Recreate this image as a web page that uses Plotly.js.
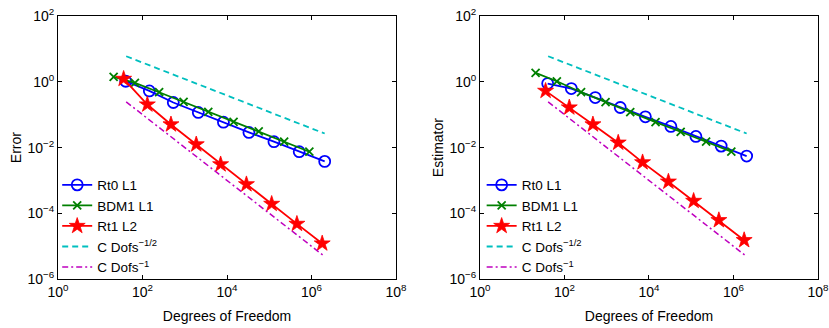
<!DOCTYPE html>
<html>
<head>
<meta charset="utf-8">
<script src="https://cdn.plot.ly/plotly-3.0.1.min.js"></script>
<style>html,body{margin:0;padding:0;background:#fff;}#chart{width:829px;height:328px;}</style>
</head>
<body>
<div id="chart"></div>
<script>
// Degrees of freedom per method
const dofsRt0  = [40, 145, 535, 2090, 8220, 33000, 129000, 511000, 2050000];
const dofsBDM1 = [20.7, 66, 247, 938, 3600, 14300, 56200, 225000, 889000];
const dofsRt1  = [35.7, 130, 471, 1870, 7050, 28800, 114000, 451000, 1790000];

// Left panel: Error
const errRt0  = [1.04, 0.53, 0.235, 0.117, 0.0594, 0.0289, 0.0151, 0.0075, 0.00381];
const errBDM1 = [1.41, 0.93, 0.483, 0.246, 0.122, 0.061, 0.031, 0.0151, 0.0075];
const errRt1  = [1.23, 0.204, 0.0506, 0.0125, 0.00309, 7.65e-4, 1.94e-4, 4.79e-5, 1.21e-5];

// Right panel: Estimator
const estRt0  = [0.885, 0.625, 0.333, 0.166, 0.0863, 0.044, 0.0219, 0.0111, 0.00553];
const estBDM1 = [1.87, 1.04, 0.484, 0.240, 0.120, 0.0594, 0.0303, 0.0151, 0.0075];
const estRt1  = [0.531, 0.166, 0.0506, 0.0141, 0.00356, 9.2e-4, 2.39e-4, 6.19e-5, 1.53e-5];

// Reference slopes
const refHalfDofs = [41, 2.05e6];
const refHalf     = [6.0, 0.0268];
const refOneDofs  = [41, 1.92e6];
const refOne      = [0.246, 5.2e-6];

// Tick labels
const xTickVals = [1, 1e2, 1e4, 1e6, 1e8];
const xTickText = ['10<sup>0</sup>', '10<sup>2</sup>', '10<sup>4</sup>', '10<sup>6</sup>', '10<sup>8</sup>'];
const yTickVals = [1e-6, 1e-4, 1e-2, 1, 1e2];
const yTickText = ['10<sup>−6</sup>', '10<sup>−4</sup>', '10<sup>−2</sup>', '10<sup>0</sup>', '10<sup>2</sup>'];

const names = ['Rt0 L1', 'BDM1 L1', 'Rt1 L2', 'C Dofs<sup>−1/2</sup>', 'C Dofs<sup>−1</sup>'];

function panel(xa, ya, lg, rt0, bdm1, rt1) {
  return [
    {x: dofsRt0, y: rt0, xaxis: xa, yaxis: ya, legend: lg, name: names[0], mode: 'lines+markers',
     line: {color: '#0000ff', width: 1.8},
     marker: {symbol: 'circle-open', size: 11, color: '#0000ff', line: {width: 1.8, color: '#0000ff'}}},
    {x: dofsBDM1, y: bdm1, xaxis: xa, yaxis: ya, legend: lg, name: names[1], mode: 'lines+markers',
     line: {color: '#008000', width: 1.8},
     marker: {symbol: 'x-thin-open', size: 8, color: '#008000', line: {width: 1.8, color: '#008000'}}},
    {x: dofsRt1, y: rt1, xaxis: xa, yaxis: ya, legend: lg, name: names[2], mode: 'lines+markers',
     line: {color: '#ff0000', width: 1.8},
     marker: {symbol: 'star', size: 12, color: '#ff0000', line: {width: 0.8, color: '#ff0000'}}},
    {x: refHalfDofs, y: refHalf, xaxis: xa, yaxis: ya, legend: lg, name: names[3], mode: 'lines',
     line: {color: '#00bfbf', width: 1.8, dash: '6px,4px'}},
    {x: refOneDofs, y: refOne, xaxis: xa, yaxis: ya, legend: lg, name: names[4], mode: 'lines',
     line: {color: '#bf00bf', width: 1.5, dash: '6px,3px,2px,3px'}}
  ];
}

const data = [].concat(
  panel('x', 'y', 'legend', errRt0, errBDM1, errRt1),
  panel('x2', 'y2', 'legend2', estRt0, estBDM1, estRt1)
);

const font = {family: '"Liberation Sans", Arial, sans-serif', size: 14, color: '#000'};

function xaxis(dom, anchor) {
  return {type: 'log', domain: dom, anchor: anchor, range: [0, 8],
    tickvals: xTickVals, ticktext: xTickText, ticks: 'inside', ticklen: 4, tickcolor: '#000',
    ticklabeloverflow: 'allow',
    showline: true, linecolor: '#000', linewidth: 1, mirror: 'allticks', showgrid: false, zeroline: false,
    tickfont: font, title: {text: 'Degrees of Freedom', font: font, standoff: 12}};
}
function yaxis(anchor, title) {
  return {type: 'log', domain: [0.149, 0.951], anchor: anchor, range: [-6, 2],
    tickvals: yTickVals, ticktext: yTickText, ticks: 'inside', ticklen: 4, tickcolor: '#000',
    ticklabeloverflow: 'allow',
    showline: true, linecolor: '#000', linewidth: 1, mirror: 'allticks', showgrid: false, zeroline: false,
    tickfont: font, title: {text: title, font: font, standoff: 2}};
}
function legend(x) {
  return {x: x, y: 0.483, xanchor: 'left', yanchor: 'top', bgcolor: 'rgba(0,0,0,0)', borderwidth: 0,
    font: {family: font.family, size: 13.5, color: '#000'}, itemwidth: 30, tracegroupgap: 0};
}

const layout = {
  width: 829, height: 328,
  margin: {l: 0, r: 0, t: 0, b: 0},
  paper_bgcolor: '#fff', plot_bgcolor: '#fff',
  font: font,
  xaxis: xaxis([0.0700, 0.4777], 'y'),
  yaxis: yaxis('x', 'Error'),
  xaxis2: xaxis([0.5790, 0.9867], 'y2'),
  yaxis2: yaxis('x2', 'Estimator'),
  legend: legend(0.069),
  legend2: legend(0.581),
  showlegend: true
};

Plotly.newPlot('chart', data, layout, {staticPlot: true});
</script>
</body>
</html>
